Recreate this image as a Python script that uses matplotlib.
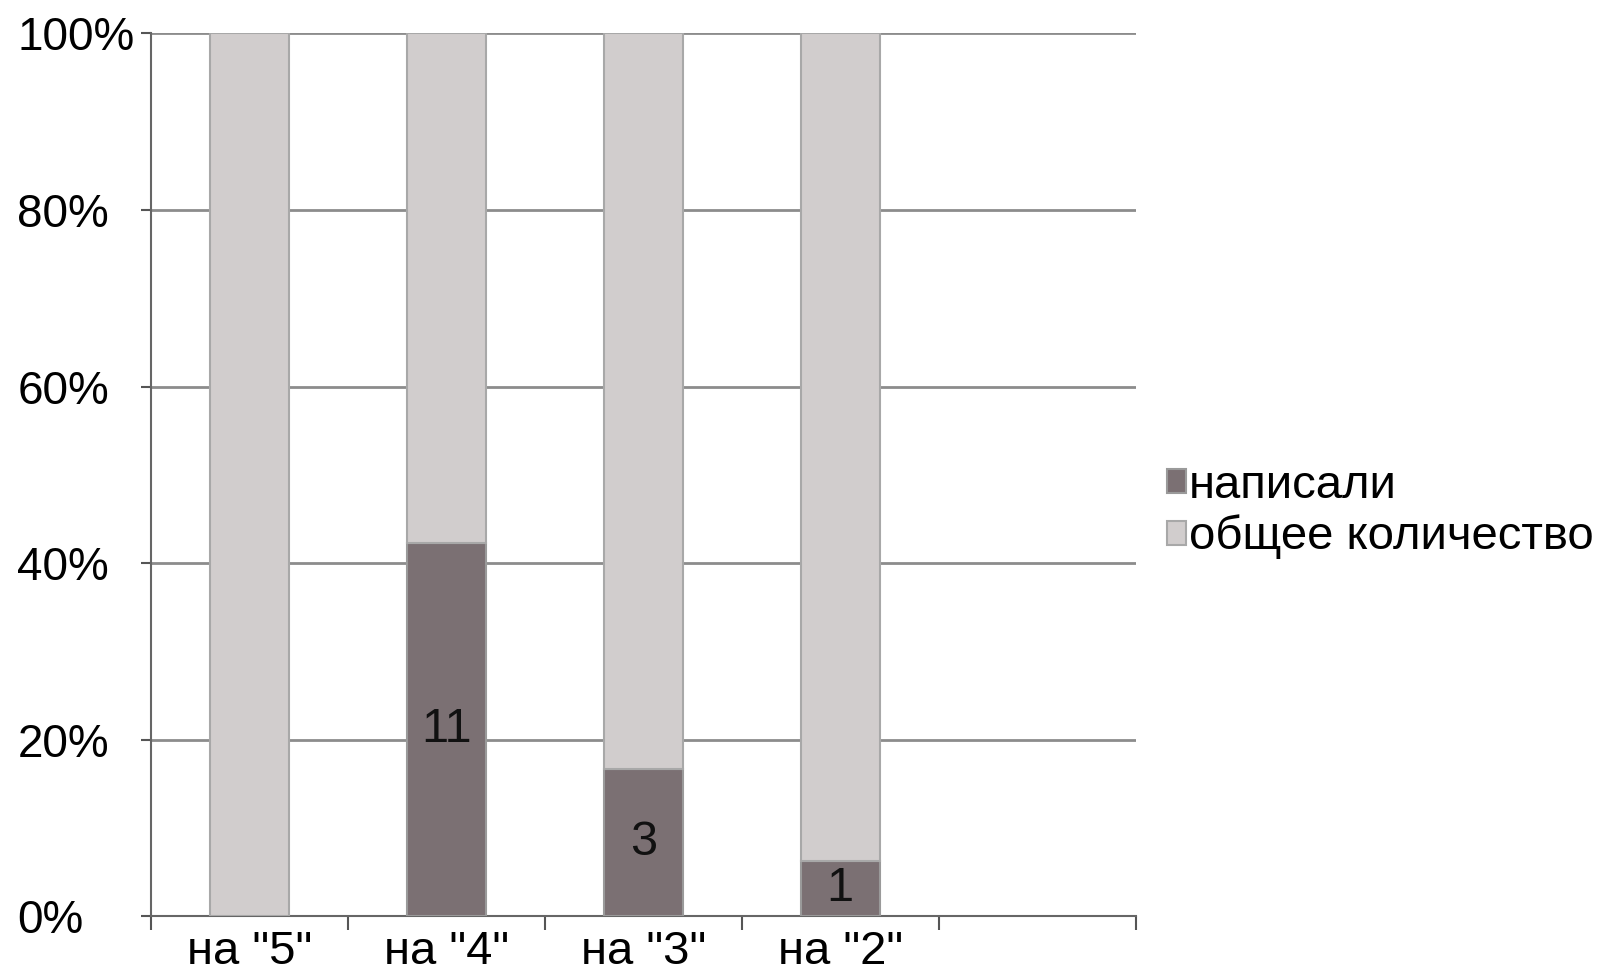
import numpy as np
import matplotlib.pyplot as plt

plt.rcParams['font.family'] = ['Liberation Sans', 'DejaVu Sans']

categories = ['на "5"', 'на "4"', 'на "3"', 'на "2"']
wrote = [0, 11, 3, 1]
total = [15, 15, 15, 15]
n_slots = 5  # one empty slot at the right, as in the original

dark = '#7b7073'
light = '#d1cdcd'

wrote_a = np.array(wrote, dtype=float)
total_a = np.array(total, dtype=float)
s = wrote_a + total_a
wrote_pct = wrote_a / s * 100
total_pct = total_a / s * 100

fig = plt.figure(figsize=(16.04, 9.8), dpi=100)
ax = fig.add_axes([0.094, 0.065, 0.614, 0.901])

x = np.arange(len(categories))
w = 0.4
ax.bar(x, wrote_pct, w, color=dark, edgecolor='#9a9a9a', linewidth=1.5,
       label='написали', zorder=3)
ax.bar(x, total_pct, w, bottom=wrote_pct, color=light, edgecolor='#a8a8a8',
       linewidth=1.5, label='общее количество', zorder=3)

for i, v in enumerate(wrote):
    if v > 0:
        ax.text(x[i], wrote_pct[i] / 2, str(v), ha='center', va='center',
                fontsize=35, color='#111111', zorder=4)

ax.set_xlim(-0.5, n_slots - 0.5)
ax.set_ylim(0, 100)
ax.set_yticks(np.arange(0, 101, 20))
ax.set_yticklabels([f'{v}%' for v in range(0, 101, 20)])
ax.yaxis.grid(True, color='#8c8c8c', linewidth=2, zorder=0)
ax.set_axisbelow(True)

ax.set_xticks(x)
ax.set_xticklabels(categories)
ax.set_xticks(np.arange(-0.5, n_slots), minor=True)
ax.tick_params(axis='x', which='major', length=0, labelsize=34, pad=10)
ax.tick_params(axis='x', which='minor', length=10, width=1.5, color='#555555')
ax.tick_params(axis='y', length=7, width=1.5, color='#555555', labelsize=33, pad=89)
for lbl in ax.get_yticklabels():
    lbl.set_horizontalalignment('left')

for side in ['top', 'right']:
    ax.spines[side].set_visible(False)
for side in ['left', 'bottom']:
    ax.spines[side].set_color('#666666')
    ax.spines[side].set_linewidth(1.5)

fig.legend(loc='center left', bbox_to_anchor=(0.713, 0.478), frameon=False,
           fontsize=34, handlelength=0.4, handleheight=0.4, handletextpad=0.06,
           labelspacing=0.15, borderpad=0)

fig.savefig('out.png', dpi=100)
